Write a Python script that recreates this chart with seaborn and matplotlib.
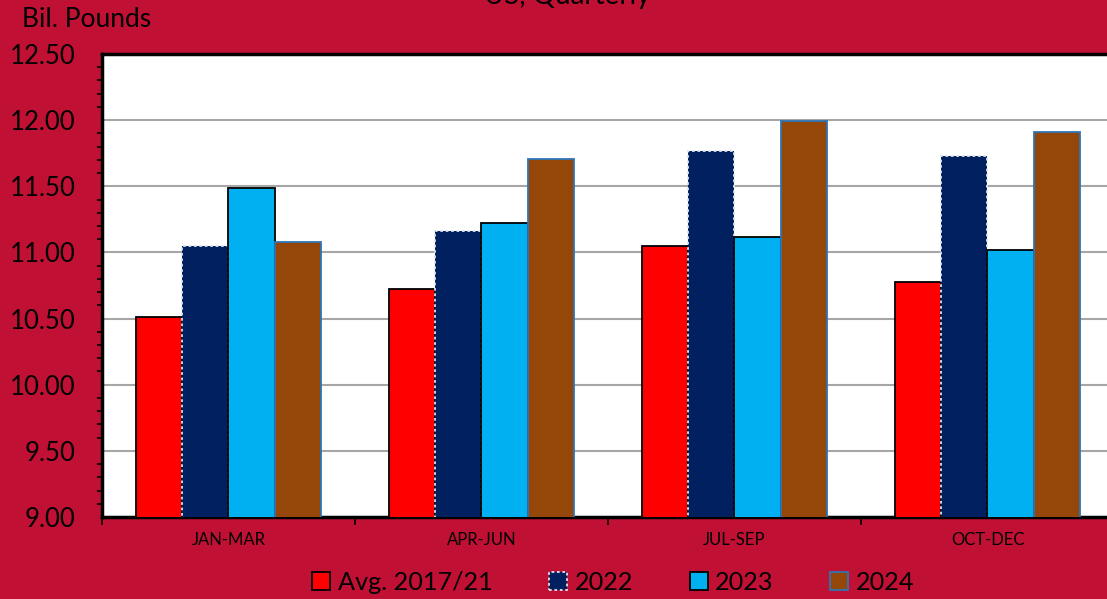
import matplotlib
matplotlib.use("Agg")
import matplotlib.pyplot as plt
from matplotlib.ticker import MultipleLocator, FixedLocator
import pandas as pd
import seaborn as sns

# Datos
quarters = ["JAN-MAR", "APR-JUN", "JUL-SEP", "OCT-DEC"]
avg_2017_21 = [10.51, 10.72, 11.05, 10.78]
y2022 = [11.05, 11.16, 11.77, 11.73]
y2023 = [11.49, 11.22, 11.12, 11.02]
y2024 = [11.08, 11.71, 11.99, 11.91]
series = ["Avg. 2017/21", "2022", "2023", "2024"]

colors = ["#FF0000", "#002060", "#00B0F0", "#954709"]
edges = ["#000000", "#DDE3F0", "#000000", "#2E75B6"]
styles = ["solid", (0, (1.5, 1.5)), "solid", "solid"]
bg = "#C01034"

df = pd.DataFrame({
    "quarter": quarters * 4,
    "serie": [s for s in series for _ in quarters],
    "value": avg_2017_21 + y2022 + y2023 + y2024,
})

sns.set_style("white")
plt.rcParams["font.family"] = ["Lato", "DejaVu Sans"]
plt.rcParams["text.color"] = "black"

fig = plt.figure(figsize=(11.07, 5.99), dpi=100, facecolor=bg)
ax = fig.add_axes([0.0921, 0.1369, 0.9142, 0.7729])
ax.set_facecolor("white")

sns.barplot(data=df, x="quarter", y="value", hue="serie", palette=colors,
            width=0.73, gap=0, ax=ax, legend=False, saturation=1)

for cont, ec, ls in zip(ax.containers, edges, styles):
    for bar in cont:
        bar.set_edgecolor(ec)
        bar.set_linewidth(1.3)
        bar.set_linestyle(ls)
        bar.set_zorder(3)

# Ejes
ax.set_ylim(9.0, 12.5)
ax.set_xlim(-0.5, 3.5)
ax.yaxis.set_major_locator(MultipleLocator(0.5))
ax.yaxis.set_minor_locator(MultipleLocator(0.1))
ax.yaxis.set_major_formatter(lambda v, p: f"{v:.2f}")
ax.grid(axis="y", which="major", color="#A6A6A6", linewidth=1.5, zorder=0)
ax.set_axisbelow(True)
ax.tick_params(axis="y", which="major", direction="out", length=6, width=1.2,
               labelsize=18.5, colors="black", labelcolor="black", pad=13)
ax.tick_params(axis="y", which="minor", direction="out", length=3.8, width=1.2,
               left=True, colors="black")
ax.xaxis.set_minor_locator(FixedLocator([-0.5, 0.5, 1.5, 2.5, 3.5]))
ax.tick_params(axis="x", which="major", length=0, labelsize=12,
               labelcolor="black", pad=11)
ax.tick_params(axis="x", which="minor", direction="out", length=6, width=1.2,
               bottom=True, colors="black")
ax.set_xlabel("")
ax.set_ylabel("")

for side in ["left", "top", "bottom"]:
    ax.spines[side].set_color("black")
    ax.spines[side].set_linewidth(2.5)
ax.spines["right"].set_visible(False)

# Textos
fig.text(0.0198, 1 - 27 / 599, "Bil. Pounds", fontsize=19, va="baseline")
fig.text(0.512, 1 - 4 / 599, "US, Quarterly", fontsize=20, va="baseline",
         ha="center")

# Leyenda
handles = [plt.Rectangle((0, 0), 1, 1, facecolor=c, edgecolor=e, linestyle=s,
                         linewidth=1.3)
           for c, e, s in zip(colors, edges, styles)]
fig.legend(handles, series, loc="center", bbox_to_anchor=(0.554, 1 - 582 / 599),
           ncol=4, frameon=False, fontsize=18.2, handlelength=0.7,
           handleheight=0.7, handletextpad=0.3, columnspacing=2.25)

fig.savefig("out.png", dpi=100, facecolor=bg)
